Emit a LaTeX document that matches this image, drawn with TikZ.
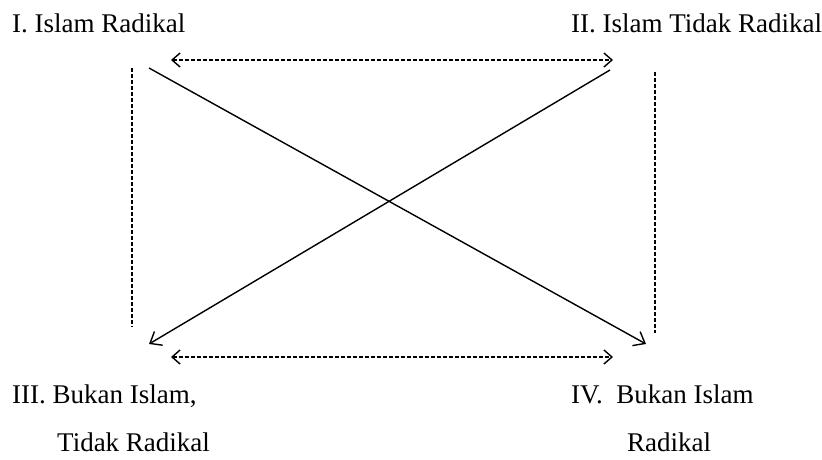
\documentclass[tikz,border=0pt]{standalone}
\usepackage{fontspec}
\setmainfont{Liberation Serif}
\usetikzlibrary{arrows.meta}
\begin{document}
\begin{tikzpicture}[x=1pt,y=-1pt,
  lbl/.style={anchor=base west,inner sep=0pt,font=\fontsize{27}{32}\selectfont},
  dashline/.style={line width=1.4pt,dash pattern=on 4pt off 2pt},
  dasharrow/.style={dashline,{Straight Barb[length=8pt,width=14pt]}-{Straight Barb[length=8pt,width=14pt]}},
  solidarrow/.style={line width=1.4pt,-{Straight Barb[length=10pt,width=16pt]}}]
\useasboundingbox (0,0) rectangle (822,459);
\node[lbl] (q1) at (12,32) {I. Islam Radikal};
\node[lbl] (q2) at (571,32) {II. Islam Tidak Radikal};
\node[lbl] (q3a) at (12,403) {III.\ Bukan Islam,};
\node[lbl] (q3b) at (57,451) {Tidak Radikal};
\node[lbl] (q4a) at (571,403) {IV.\ \ Bukan Islam};
\node[lbl] (q4b) at (627,451) {Radikal};
% coordinates
\coordinate (lt) at (132,68);
\coordinate (lb) at (132,327);
\coordinate (rt) at (655,72);
\coordinate (rb) at (655,333);
\coordinate (ta) at (171,60);
\coordinate (tb) at (613,60);
\coordinate (ba) at (171,357);
\coordinate (bb) at (613,357);
\coordinate (d1s) at (149,68);
\coordinate (d1e) at (646,344);
\coordinate (d2s) at (610,70);
\coordinate (d2e) at (149,344);
\draw[dashline] (lt) -- (lb);
\draw[dashline] (rt) -- (rb);
\draw[dasharrow] (ta) -- (tb);
\draw[dasharrow] (ba) -- (bb);
\draw[solidarrow] (d1s) -- (d1e);
\draw[solidarrow] (d2s) -- (d2e);
\end{tikzpicture}
\end{document}
